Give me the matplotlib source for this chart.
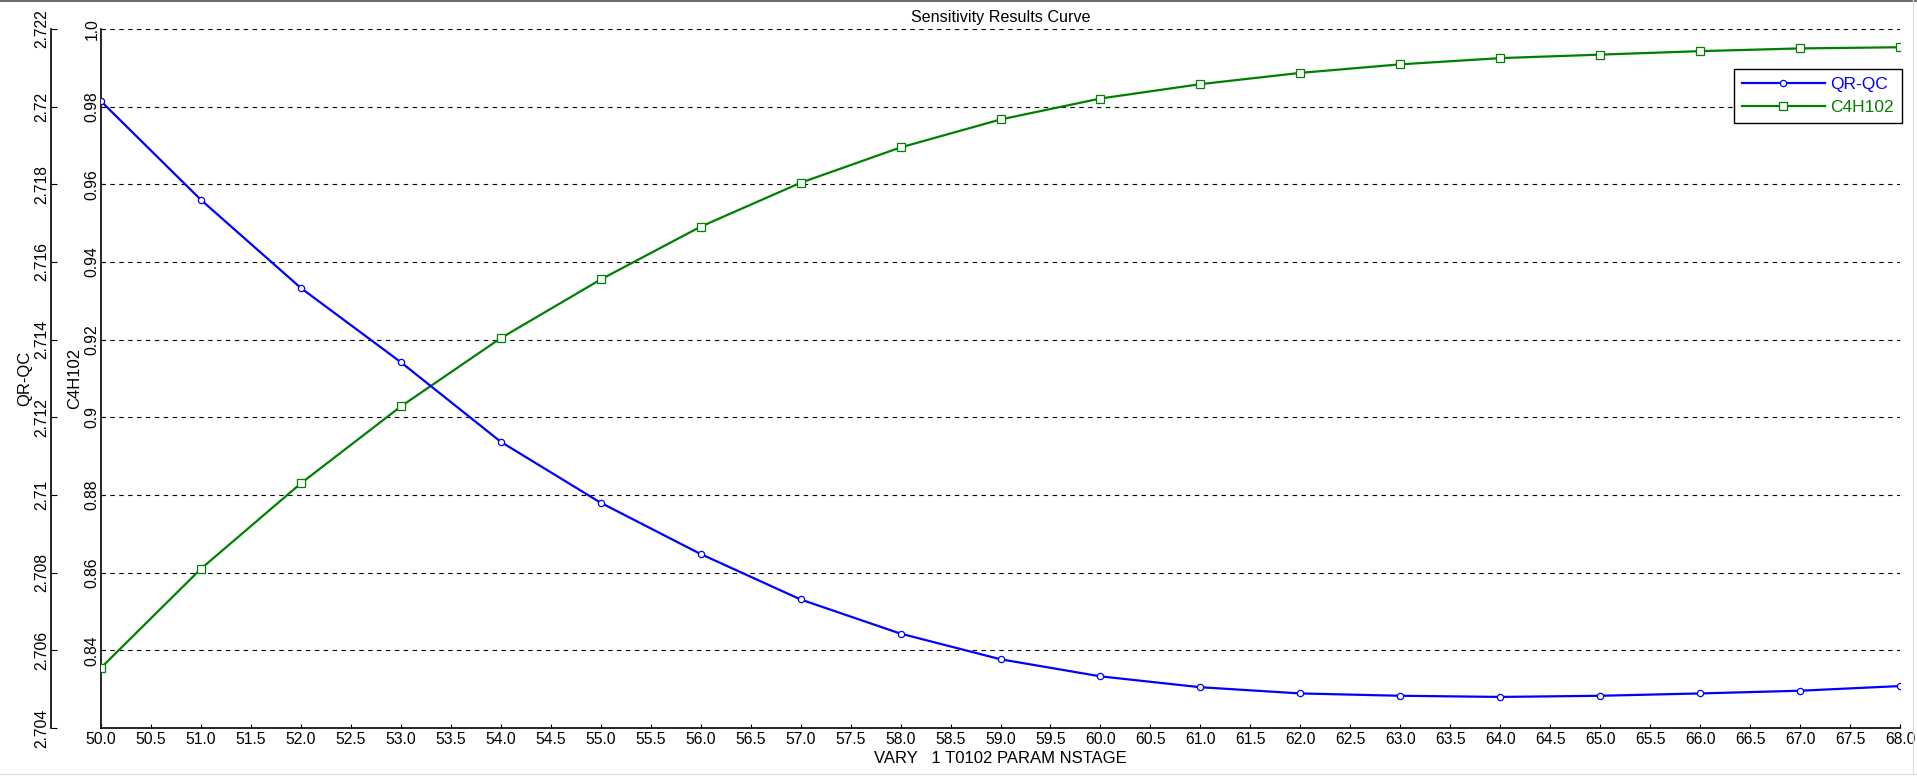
import matplotlib
matplotlib.use("Agg")
import matplotlib.pyplot as plt
from matplotlib.lines import Line2D

plt.rcParams['font.family'] = ['Liberation Sans', 'DejaVu Sans']

# NSTAGE values (x axis)
stages = [50, 51, 52, 53, 54, 55, 56, 57, 58, 59, 60, 61, 62, 63, 64, 65, 66, 67, 68]

# QR-QC series (outer left axis)
qr_qc = [2.72014, 2.71760, 2.71533, 2.71342, 2.71137, 2.70980, 2.70848, 2.70731,
         2.70643, 2.70577, 2.70533, 2.70505, 2.70489, 2.70483, 2.70480, 2.70483,
         2.70489, 2.70496, 2.70508]

# C4H102 series (inner left axis)
c4h102 = [0.8355, 0.8610, 0.8830, 0.9028, 0.9204, 0.9355, 0.9491, 0.9604, 0.9695,
          0.9767, 0.9821, 0.9858, 0.9887, 0.9909, 0.9925, 0.9934, 0.9943, 0.9950, 0.9953]

x_ticks = [50 + 0.5 * i for i in range(37)]
x_labels = ['%.1f' % t for t in x_ticks]
c4_ticks = [0.84, 0.86, 0.88, 0.90, 0.92, 0.94, 0.96, 0.98, 1.00]
c4_labels = ['0.84', '0.86', '0.88', '0.9', '0.92', '0.94', '0.96', '0.98', '1.0']
qr_ticks = [2.704, 2.706, 2.708, 2.710, 2.712, 2.714, 2.716, 2.718, 2.720, 2.722]
qr_labels = ['2.704', '2.706', '2.708', '2.71', '2.712', '2.714', '2.716', '2.718', '2.72', '2.722']

W, H = 1917, 777
fig = plt.figure(figsize=(W / 100, H / 100), dpi=100)
left, right, top, bottom = 101, 1900, 29, 728
ax = fig.add_axes([left / W, 1 - bottom / H, (right - left) / W, (bottom - top) / H])
ax2 = ax.twinx()

blue = '#0000ff'
green = '#008000'

# C4H102 on the inner axis
l2, = ax.plot(stages, c4h102, color=green, lw=1.6, marker='s', ms=5.4,
              mfc='white', mec=green, mew=0.9, label='C4H102', zorder=3)
ax.set_xlim(50, 68)
ax.set_ylim(0.82, 1.0)
ax.set_yticks(c4_ticks)
ax.set_yticklabels(c4_labels, rotation=90, va='center')
ax.set_xticks(x_ticks)
ax.set_xticklabels(x_labels)
ax.tick_params(axis='both', direction='in', length=3, width=0.8, labelsize=11.3, pad=1)
ax.tick_params(axis='x', pad=3)
for g in c4_ticks:
    ax.axhline(g, color='black', lw=0.8, ls=(0, (4, 4)), zorder=1)
ax.spines['top'].set_visible(False)
ax.spines['right'].set_visible(False)
ax.spines['left'].set_linewidth(1.2)
ax.spines['bottom'].set_linewidth(1.2)
ax.set_ylabel('C4H102', fontsize=12)
ax.yaxis.set_label_coords((82 - left) / (right - left), 0.5)
ax.set_xlabel('VARY   1 T0102 PARAM NSTAGE', fontsize=12, labelpad=3)
ax.set_title('Sensitivity Results Curve', fontsize=11.6, pad=5)

# QR-QC on the outer axis
l1, = ax2.plot(stages, qr_qc, color=blue, lw=1.6, marker='o', ms=4.5,
               mfc='white', mec=blue, mew=0.9, label='QR-QC', zorder=3)
ax2.set_ylim(2.704, 2.722)
ax2.yaxis.tick_left()
ax2.yaxis.set_label_position('left')
ax2.spines['left'].set_position(('axes', -50 / (right - left)))
ax2.spines['left'].set_visible(True)
ax2.spines['left'].set_linewidth(1.2)
for s in ['right', 'top', 'bottom']:
    ax2.spines[s].set_visible(False)
ax2.set_yticks(qr_ticks)
ax2.set_yticklabels(qr_labels, rotation=90, va='center')
ax2.tick_params(axis='y', direction='in', length=4, width=0.8, labelsize=11.3, pad=1)
ax2.set_ylabel('QR-QC', fontsize=12)
ax2.yaxis.set_label_coords((32 - left) / (right - left), 0.5)

leg = ax2.legend(handles=[l1, l2], loc='upper right',
                 bbox_to_anchor=(1.001, 1 - 40 / (bottom - top)), borderaxespad=0,
                 fancybox=False, framealpha=1, edgecolor='black', fontsize=12.5,
                 handlelength=4.8, borderpad=0.45, labelspacing=0.45, handletextpad=0.3)
leg.get_frame().set_linewidth(1.0)
for txt, c in zip(leg.get_texts(), [blue, green]):
    txt.set_color(c)

# window frame edges from the screenshot
fig.add_artist(Line2D([0, 1], [1 - 1 / H, 1 - 1 / H], color='#6e6e6e', lw=1.5))
fig.add_artist(Line2D([0, 1], [1 - 774 / H, 1 - 774 / H], color='#e0e0e0', lw=1))
fig.add_artist(Line2D([1913 / W, 1913 / W], [1 - 774 / H, 1], color='#e0e0e0', lw=1))

fig.savefig('out.png', dpi=100)
